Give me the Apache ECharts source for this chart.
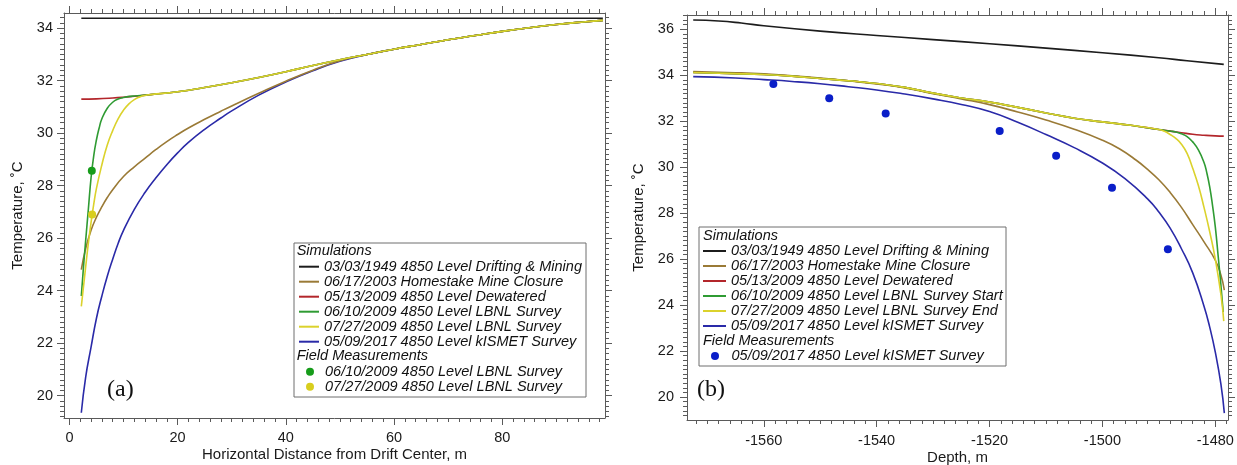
<!DOCTYPE html>
<html>
<head>
<meta charset="utf-8">
<script src="https://cdn.jsdelivr.net/npm/echarts@6/dist/echarts.min.js"></script>
<style>
  html, body { margin: 0; padding: 0; background: #ffffff; }
  #chart { width: 1237px; height: 465px; }
</style>
</head>
<body>
<div id="chart"></div>
<script>
// ---------- (a) temperature vs horizontal distance from drift centre ----------
// [distance m, temperature °C]
const driftA = [[2.2, 34.38], [98.6, 34.38]];
// far-field part shared by the simulations once they have recovered
const farFieldA = [[15, 31.47], [20, 31.58], [25, 31.74], [30, 31.92], [35, 32.12], [40, 32.34],
  [45, 32.58], [50, 32.8], [55, 33.0], [60, 33.2], [65, 33.38], [70, 33.56], [75, 33.72],
  [80, 33.88], [85, 34.02], [90, 34.14], [95, 34.24], [98.6, 34.3]];
const dewaterNearA = [[2.2, 31.3], [5, 31.31], [8, 31.34], [10, 31.37], [12, 31.41], [14, 31.45]];
const lbnlStartNearA = [[2.2, 23.8], [2.6, 24.9], [3, 25.9], [3.5, 27.1], [4, 28.3], [4.5, 29.15],
  [5, 29.75], [5.5, 30.2], [6, 30.55], [7, 30.95], [8, 31.18], [9, 31.3], [10, 31.36], [12, 31.42], [14, 31.45]];
const lbnlEndNearA = [[2.2, 23.4], [3, 24.9], [3.5, 25.8], [4, 26.6], [4.5, 27.3], [5, 27.9], [6, 28.8],
  [7, 29.55], [8, 30.1], [9, 30.55], [10, 30.88], [11, 31.12], [12, 31.28], [13, 31.38], [14, 31.44]];
const closureNearA = [[2.2, 24.8], [3, 25.6], [4, 26.3], [5, 26.8], [6, 27.2], [7, 27.55], [8, 27.85],
  [10, 28.35], [12, 28.72], [14, 29.05], [16, 29.38], [18, 29.68], [20, 29.95], [22, 30.2], [25, 30.53],
  [28, 30.84], [30, 31.04], [35, 31.52], [40, 31.98], [45, 32.4], [50, 32.76]];
const kismetNearA = [[2.2, 19.35], [3, 20.7], [4, 21.85], [5, 22.95], [6, 23.8], [7, 24.55], [8, 25.2],
  [9, 25.8], [10, 26.3], [12, 27.1], [14, 27.75], [16, 28.3], [18, 28.8], [20, 29.25], [22, 29.65],
  [25, 30.15], [28, 30.58], [30, 30.85], [35, 31.45], [40, 31.95], [45, 32.38], [50, 32.74]];
const fieldStartA = [[4.14, 28.57]];
const fieldEndA = [[4.2, 26.9]];

// ---------- (b) temperature vs depth ----------
// [depth m, temperature °C]
const driftB = [[-1572.5, 36.4], [-1568, 36.36], [-1564, 36.27], [-1560, 36.15], [-1550, 35.92],
  [-1540, 35.73], [-1530, 35.55], [-1520, 35.37], [-1510, 35.18], [-1500, 34.98], [-1490, 34.76],
  [-1485, 34.63], [-1478.5, 34.47]];
// deep section shared by the 2009 simulations
const deepB = [[-1572.5, 34.12], [-1565, 34.07], [-1560, 34.03], [-1555, 33.96], [-1550, 33.86],
  [-1545, 33.76], [-1540, 33.64], [-1535, 33.47], [-1530, 33.22], [-1525, 33.01], [-1520, 32.83],
  [-1515, 32.6], [-1510, 32.36], [-1505, 32.13], [-1500, 31.97], [-1495, 31.82], [-1490, 31.64]];
const dewaterTailB = [[-1486, 31.5], [-1484, 31.43], [-1482, 31.39], [-1480, 31.36], [-1478.5, 31.35]];
const lbnlStartTailB = [[-1488, 31.57], [-1487, 31.53], [-1486, 31.45], [-1485, 31.33], [-1484, 31.1],
  [-1483, 30.75], [-1482, 30.2], [-1481.5, 29.75], [-1481, 29.15], [-1480.5, 28.35], [-1480, 27.4],
  [-1479.5, 26.15], [-1479, 24.85], [-1478.6, 23.7]];
const lbnlEndTailB = [[-1489, 31.56], [-1488, 31.42], [-1487, 31.25], [-1486, 31.0], [-1485, 30.6],
  [-1484, 29.95], [-1483, 29.2], [-1482, 28.25], [-1481, 27.2], [-1480, 26.0], [-1479, 24.45], [-1478.5, 23.3]];
const closureB = [[-1572.5, 34.16], [-1565, 34.11], [-1560, 34.06], [-1555, 33.98], [-1550, 33.88],
  [-1545, 33.76], [-1540, 33.62], [-1535, 33.45], [-1530, 33.2], [-1525, 32.97], [-1520, 32.72],
  [-1515, 32.4], [-1510, 32.05], [-1505, 31.65], [-1500, 31.17], [-1497, 30.8], [-1494, 30.3],
  [-1492, 29.9], [-1490, 29.45], [-1488, 28.9], [-1486, 28.25], [-1484, 27.5], [-1482, 26.75],
  [-1480, 25.95], [-1479, 25.3], [-1478.4, 24.65]];
const kismetB = [[-1572.5, 33.94], [-1565, 33.88], [-1560, 33.81], [-1555, 33.73], [-1550, 33.63],
  [-1545, 33.5], [-1540, 33.36], [-1535, 33.18], [-1530, 32.97], [-1525, 32.73], [-1520, 32.42],
  [-1515, 31.95], [-1510, 31.42], [-1505, 30.85], [-1500, 30.18], [-1496, 29.5], [-1492, 28.62],
  [-1490, 28.05], [-1488, 27.35], [-1486, 26.45], [-1484, 25.4], [-1482, 23.95], [-1481, 23.05],
  [-1480, 21.95], [-1479, 20.55], [-1478.4, 19.3]];
const fieldKismetB = [[-1558.3, 33.62], [-1548.4, 33.0], [-1538.4, 32.34], [-1518.2, 31.57],
  [-1508.2, 30.5], [-1498.3, 29.1], [-1488.4, 26.43]];

// ---------- tick labels ----------
const distTicks = [0, 20, 40, 60, 80];
const depthTicks = [-1560, -1540, -1520, -1500, -1480];
const tempTicksA = [20, 22, 24, 26, 28, 30, 32, 34];
const tempTicksB = [20, 22, 24, 26, 28, 30, 32, 34, 36];

// ---------- styling ----------
const FONT = '"Liberation Sans", Arial, Helvetica, sans-serif';
const FRAME = '#5a5a5a';
const COL = {
  black: '#1c1c1c', brown: '#9a7a36', red: '#b3262b', green: '#2f9b33',
  yellow: '#dbd22c', blue: '#2a2aa8',
  dotGreen: '#169c1a', dotYellow: '#d8ce1e', dotBlue: '#0a1ec8'
};

function stepTicks(lo, hi, step) {
  const out = [];
  for (let v = lo; v <= hi + 1e-9; v += step) out.push(Math.round(v * 100) / 100);
  return out;
}

// Four axes per dimension: labelled side (major + minor ticks) and the mirrored side.
function axisSet(dim, grid, min, max, majors, minors, name, nameGap, labelMargin) {
  const mainPos = dim === 'x' ? 'bottom' : 'left';
  const oppPos = dim === 'x' ? 'top' : 'right';
  const base = {
    type: 'value', gridIndex: grid, min: min, max: max,
    splitLine: { show: false },
    axisLine: { show: false, onZero: false },
    axisTick: { show: false },
    axisLabel: { show: false }
  };
  const line = { show: true, onZero: false, lineStyle: { color: FRAME, width: 1 } };
  const major = { show: true, customValues: majors, length: 7, lineStyle: { color: FRAME, width: 1 } };
  const minor = { show: true, customValues: minors, length: 4, lineStyle: { color: FRAME, width: 1 } };
  return [
    Object.assign({}, base, {
      position: mainPos, axisLine: line, axisTick: major,
      axisLabel: {
        show: true, customValues: majors, margin: labelMargin,
        formatter: v => String(v), fontSize: 14.5, fontFamily: FONT, color: '#1a1a1a'
      },
      name: name, nameLocation: 'middle', nameGap: nameGap, nameMoveOverlap: false,
      nameTextStyle: { fontSize: 15, fontFamily: FONT, color: '#1a1a1a' }
    }),
    Object.assign({}, base, { position: mainPos, axisTick: minor }),
    Object.assign({}, base, { position: oppPos, axisLine: line, axisTick: major }),
    Object.assign({}, base, { position: oppPos, axisTick: minor })
  ];
}

const xAxes = [].concat(
  axisSet('x', 0, -1, 99, distTicks, stepTicks(0, 98, 2), 'Horizontal Distance from Drift Center, m', 29.5, 12),
  axisSet('x', 1, -1573.6, -1477.75, depthTicks, stepTicks(-1572, -1478, 2), 'Depth, m', 30, 13)
);
const yAxes = [].concat(
  axisSet('y', 0, 19.15, 34.58, tempTicksA, stepTicks(19.2, 34.4, 0.2), 'Temperature, \u02DAC', 39, 11),
  axisSet('y', 1, 19.0, 36.62, tempTicksB, stepTicks(19.2, 36.6, 0.2), 'Temperature, \u02DAC', 41, 13)
);

// series definitions: legend key, legend text, colour, data
const linesA = [
  { key: 'a1', text: '03/03/1949 4850 Level Drifting & Mining', color: COL.black, data: driftA },
  { key: 'a2', text: '06/17/2003 Homestake Mine Closure', color: COL.brown, data: closureNearA.concat(farFieldA.slice(8)) },
  { key: 'a3', text: '05/13/2009 4850 Level Dewatered', color: COL.red, data: dewaterNearA.concat(farFieldA) },
  { key: 'a4', text: '06/10/2009 4850 Level LBNL Survey', color: COL.green, data: lbnlStartNearA.concat(farFieldA) },
  { key: 'a5', text: '07/27/2009 4850 Level LBNL Survey', color: COL.yellow, data: lbnlEndNearA.concat(farFieldA) },
  { key: 'a6', text: '05/09/2017 4850 Level kISMET Survey', color: COL.blue, data: kismetNearA.concat(farFieldA.slice(8)) }
];
const dotsA = [
  { key: 'a7', text: '06/10/2009 4850 Level LBNL Survey', color: COL.dotGreen, data: fieldStartA },
  { key: 'a8', text: '07/27/2009 4850 Level LBNL Survey', color: COL.dotYellow, data: fieldEndA }
];
const linesB = [
  { key: 'b1', text: '03/03/1949 4850 Level Drifting & Mining', color: COL.black, data: driftB },
  { key: 'b2', text: '06/17/2003 Homestake Mine Closure', color: COL.brown, data: closureB },
  { key: 'b3', text: '05/13/2009 4850 Level Dewatered', color: COL.red, data: deepB.concat(dewaterTailB) },
  { key: 'b4', text: '06/10/2009 4850 Level LBNL Survey Start', color: COL.green, data: deepB.concat(lbnlStartTailB) },
  { key: 'b5', text: '07/27/2009 4850 Level LBNL Survey End', color: COL.yellow, data: deepB.concat(lbnlEndTailB) },
  { key: 'b6', text: '05/09/2017 4850 Level kISMET Survey', color: COL.blue, data: kismetB }
];
const dotsB = [
  { key: 'b7', text: '05/09/2017 4850 Level kISMET Survey', color: COL.dotBlue, data: fieldKismetB }
];

const legendText = {};
[linesA, dotsA, linesB, dotsB].forEach(list => list.forEach(s => { legendText[s.key] = s.text; }));

// draw order: black, blue, brown, red, green, yellow (yellow on top)
const drawOrder = [0, 5, 1, 2, 3, 4];

function lineSeries(list, axisIndex) {
  return drawOrder.map(i => {
    const s = list[i];
    return {
      name: s.key, type: 'line', xAxisIndex: axisIndex, yAxisIndex: axisIndex,
      data: s.data, showSymbol: false, symbol: 'none', smooth: 0.5,
      color: s.color, lineStyle: { color: s.color, width: 1.6 },
      itemStyle: { color: s.color, borderWidth: 0 }, animation: false, silent: true
    };
  });
}
function dotSeries(list, axisIndex) {
  return list.map(s => ({
    name: s.key, type: 'scatter', xAxisIndex: axisIndex, yAxisIndex: axisIndex,
    data: s.data, symbol: 'circle', symbolSize: 8, color: s.color,
    itemStyle: { color: s.color, borderWidth: 0, opacity: 1 }, animation: false, silent: true, z: 5
  }));
}

const legendBase = {
  orient: 'vertical', padding: 0, itemGap: 0, itemHeight: 2, icon: 'rect',
  selectedMode: false,
  formatter: name => legendText[name],
  itemStyle: { borderWidth: 0, opacity: 1 },
  textStyle: { fontSize: 14.5, fontStyle: 'italic', fontFamily: FONT, color: '#111111', lineHeight: 15 }
};

function headerText(x, y, text) {
  return {
    type: 'text', x: x, y: y, silent: true,
    style: {
      text: text, fill: '#111111', align: 'left', verticalAlign: 'middle',
      font: 'italic 14.5px ' + FONT
    }
  };
}

const option = {
  backgroundColor: '#ffffff',
  animation: false,
  grid: [
    { left: 64, top: 13, width: 541, height: 405, containLabel: false, outerBoundsMode: 'none' },
    { left: 687, top: 15, width: 541, height: 405, containLabel: false, outerBoundsMode: 'none' }
  ],
  xAxis: xAxes,
  yAxis: yAxes,
  legend: [
    Object.assign({}, legendBase, { left: 299, top: 259.2, itemWidth: 20, data: linesA.map(s => s.key) }),
    Object.assign({}, legendBase, { left: 306, top: 364.2, itemWidth: 20, itemHeight: 8, icon: 'circle', data: dotsA.map(s => s.key) }),
    Object.assign({}, legendBase, { left: 703, top: 243.5, itemWidth: 23, data: linesB.map(s => s.key) }),
    Object.assign({}, legendBase, { left: 711, top: 348.5, itemWidth: 23, itemHeight: 8, icon: 'circle', data: dotsB.map(s => s.key) })
  ],
  graphic: [
    { type: 'rect', silent: true, shape: { x: 294, y: 243, width: 292, height: 154 },
      style: { fill: 'none', stroke: '#6e6e6e', lineWidth: 1 } },
    headerText(296.7, 250.7, 'Simulations'),
    headerText(296.7, 356, 'Field Measurements'),
    { type: 'rect', silent: true, shape: { x: 699, y: 227, width: 307, height: 139 },
      style: { fill: 'none', stroke: '#6e6e6e', lineWidth: 1 } },
    headerText(703, 236, 'Simulations'),
    headerText(703, 341, 'Field Measurements'),
    { type: 'text', x: 107, y: 390, silent: true,
      style: { text: '(a)', fill: '#111111', verticalAlign: 'middle', font: '24px "Liberation Serif", "Times New Roman", serif' } },
    { type: 'text', x: 697, y: 390, silent: true,
      style: { text: '(b)', fill: '#111111', verticalAlign: 'middle', font: '24px "Liberation Serif", "Times New Roman", serif' } }
  ],
  series: [].concat(
    lineSeries(linesA, 0), dotSeries(dotsA, 0),
    lineSeries(linesB, 4), dotSeries(dotsB, 4)
  )
};

const chart = echarts.init(document.getElementById('chart'), null, { renderer: 'canvas' });
chart.setOption(option);
</script>
</body>
</html>
